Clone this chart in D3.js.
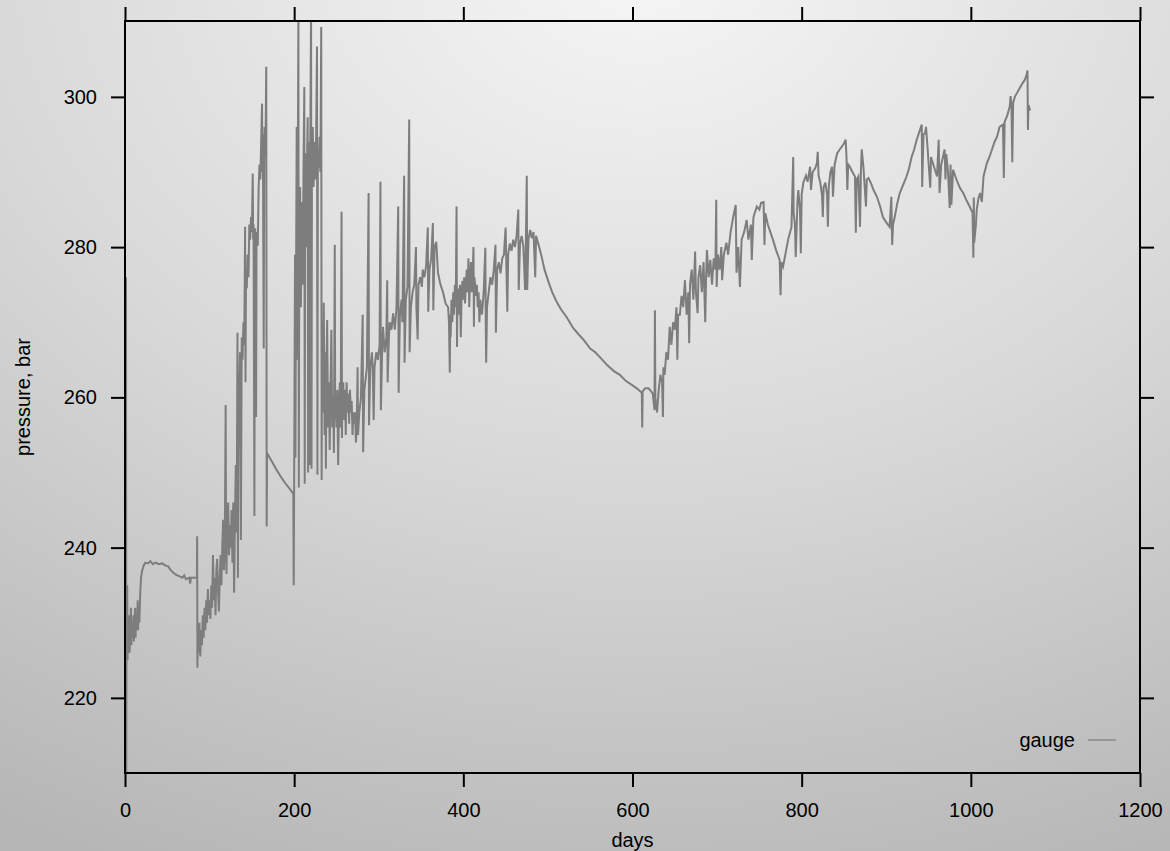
<!DOCTYPE html>
<html>
<head>
<meta charset="utf-8">
<script src="https://d3js.org/d3.v7.min.js"></script>
<style>
  html, body { margin: 0; padding: 0; background: #d0d0d0; }
  svg { display: block; }
  text { font-family: "Liberation Sans", Arial, Helvetica, sans-serif; fill: #000; }
</style>
</head>
<body>
<svg id="chart" width="1170" height="851"></svg>
<script>
// gauge readings, [day, pressure in bar]
var gaugeReadings = [
  [1.2,276],[1.5,210],[1.8,229],[2.2,226],[2.6,235],[3,225],[3.5,230],[4,227],[5,231],[5.5,226],[6,229],[7,232],[7.5,227],[8,230],[9,228],[10,231],[10.5,227.5],[11,230],[12,232],[12.5,228],[13,231],[14,229],[15,233],[15.5,229],[16,232],[17,230],[18,234],[19,236],[20,236.8],
  [22,237.6],[24,238],[27,237.9],[30,238.2],[33,237.8],[36,238],[40,237.8],[44,237.9],[48,237.6],[51,237.5],[54,237],[57,236.7],[60,236.4],[64,236.2],[68,236],[70,236.3],[72,235.8],[76,236],[77,235.2],[78,236],[84,236],
  [85,236],[85.3,241.5],[85.6,224],[86,228],[87,226],[88,230],[89,225.5],[90,229],[91,227],[92,231],[93,228],[94,232],[95,229],[96,233],[97,230],[98,234.5],[99,231],[100,233],[101,230.5],[102,235],[103,232],[104,239],[105,233],[106,236],[107,231],[108,237],[109,238.5],[110,234],[111,231.5],[112,236],[113,239],[114,235],[115,240],[116,243.7],[117,237],[118,241],[119,259],[119.5,240],[120,236.5],
  [121,244],[122,246],[123,239],[124,243],[125,240],[126,245],[127,238],[128,246],[129,234],[130,244],[131,251],[132,242],[133,268.6],[133.5,236],[134,253],[135,260],[136,266],[137,241],[138,268],[139,265],[140,270],[141,267],[142,282.7],[142.5,262],[143,276],[144,274.5],[145,279],[146,276],[147,283],[148,281],[149,284],[150,282],[151,289.8],[151.5,281],[152,283],[153,244.2],[153.5,281],[154,282.5],[155,257.4],[155.5,281],[156,282],[157,280.2],[158,288],[159,291],[160,289],[161,294],[162,299.1],[162.5,290],[163,295],[164,266.5],[164.5,291],[165,296],[166,292],[167,304],[167.5,242.8],[168,252.6],
  [172,251.8],[176,251],[180,250.2],[185,249.3],[190,248.5],[195,247.8],[199,247.2],
  [199.5,235],[200,249],[201,279],[201.5,252],[202,270],[203,296],[203.5,265],[204,282],[205,311],[205.5,248],[206,276],[207,288],[208,272],[209,286],[210,275],[211,290],[212,301.3],[212.5,248.5],[213,285],[214,292.5],[214.5,280],[215,290],[216,297.3],[216.5,250],[217,289],[218,294],[218.5,251],[219,293],[220,312],[220.5,250.5],[221,291],[222,296],[223,288],[224,294],[225,289],[226,295],[227,306.7],[227.5,249.7],[228,292],[229,290.5],[230,294.7],[231,290],[232,309.3],[232.5,249],
  [233,270],[234,258],[235,272.6],[236,255],[237,266],[237.5,250.5],[238,262],[239,270.3],[240,256],[241,262],[242,253],[243,261.4],[244,269],[245,256],[246,260],[247,252.6],[248,280.3],[248.5,257],
  [249,260],[250,256],[251,261],[252,251],[253,259],[254,262],[255,256],[256,284.7],[256.5,254.6],[257,260],[258,262],[259,257],[260,261],[261,255],[262,262],[263,258],[264,260.5],[265,256.5],[266,261],[267,258],[268,259.5],[269,255],[270,258],[271,256.5],[272,258],[273,254],[274,256],[275,264],[275.5,255],[277,258],[279,260],[281,271],[281.5,252.7],[283,261],[285,263],[286,264],[288,287.2],[288.5,256.3],[290,264],[292,266],[293,263.3],[294,257],[295,264],[297,266],[299,265],[301,267],[302,288.7],[302.5,258.3],
  [304,266],[305,269.4],[307,266],[309,268],[310,275.6],[310.5,262],[312,268],[313,270],[315,269],[317,271.2],[319,269],[321,272],[323,285.4],[323.5,260.6],[325,271],[327,273],[328,270],[330,289.5],[330.5,264.6],[332,273],[334,274.7],[336,297],[336.5,266],[338,272],[340,274],[342,275],[344,280],[344.5,272],[346,267.7],[347,275],[349,276],[351,274.7],[352,277],[354,276],[356,277.5],[358,282.6],[358.5,271.4],[360,277],[362,278.5],[364,283.2],[364.5,271.6],[366,280],[368,280.7],[370,276.6],[373,275],[376,274],[379,272.5],
  [382,272],[383,270],[384,263.3],[384.5,271],[385,268],[386,273],[387,270],[388,274],[389,271],[390,275],[391,272],[392,285.4],[392.5,266.7],[393,273],[394,274.5],[395,271],[396,275],[397,268],[398,274],[399,275.5],[400,273],[401,276],[402,272.5],[403,275],[404,277],[405,274],[406,278.5],[407,272],[408,276],[409,278],[410,274],[411,276.5],[412,280],[412.5,269.4],[413,276],[414,275],[415,273.5],[416,275],[417,272],[418,274],[419,270],
  [420,273],[422,271],[424,273.9],[426,279.9],[426.5,270],[427,264.6],[428,272],[430,274],[432,276],[434,275],[436,277],[438,280.3],[438.5,268.6],[440,277],[442,278],[444,276.5],[446,278.5],[448,279],[450,282.6],[451,277],[452,271.4],[453,279],[455,280.5],[457,279.5],[459,281],[461,280],[463,281.5],[465,285],[465.5,274.3],[467,280.5],[469,281.5],[471,280],[473,274.3],[474,281],[475,289.5],[475.5,274.3],[477,281],[479,282.3],[481,281.2],[483,282],[485,276],[486,281.5],
  [489,280.3],[492,279],[496,277],[500,275.6],[505,274],[510,272.8],[515,271.8],[522,270.7],[530,269.2],[537,268.3],[542,267.7],[550,266.5],[556,266],[562,265.3],[570,264.3],[578,263.5],[585,263],[592,262.2],[600,261.6],[605,261.2],[609,260.8],[611,260.6],[611.5,256],[612,260.8],[615,261.2],[619,261.2],[622,260.8],[624,260.5],[626,258.3],[626.5,271.6],[627,260],[629,258],[631,261],[633,263],[635,262],[636,257.4],[636.5,264],
  [638,263],[640,266],[642,265],[644,269.4],[646,267],[648,270],[650,269],[652,272],[653,265],[654,271],[656,271],[658,273.5],[660,272],[662,275.6],[664,271],[666,274],[667,267.2],[668,275],[670,277],[672,273],[674,279.4],[675,274],[677,271.2],[678,276],[680,277.6],[682,274],[684,278],[686,270],[687,276],[688,279.6],[690,276],[692,278.3],[694,275],[696,278.5],[698,277],[699,286.3],[699.5,274.7],
  [701,279],[703,277],[705,280],[706,275.6],[708,279],[711,280.6],[713,279],[716,282],[719,284],[722,285.6],[723,276.6],[725,280],[727,274.7],[729,281],[732,282],[735,283.6],[737,281],[740,283],[741,278.3],[743,284],[747,285.4],[750,285],[752,285.9],[755,286],[756,280.3],[757,284.5],[760,283],[763,282],[766,281],[770,279.5],[774,278.3],[775,273.6],[776,278],[778,277.4],
  [781,279.2],[784,281],[788,282.7],[790,292],[790.5,284.6],[792,283],[793,278.7],[795,286],[796,287.6],[798,285],[799,279.2],[800,287],[802,288.6],[805,289.5],[807,288.7],[810,290.7],[811,287.6],[813,290],[816,290.5],[818,291.2],[819,292.7],[820,289.5],[822,288.6],[824,287],[825,284],[826,288],[828,288.6],[830,287],[831,282.7],[832,288],[834,290],[836,290.7],[837,286.7],[839,291],[842,292.5],[845,293],[847,293.3],[850,293.8],[852,294.3],[853,292],[854,287.6],[855,291],[857,290.7],[860,290],[863,289.4],[864,281.9],[865,289],[867,289.4],[869,282.7],[870,290],[871,293],[873,290.7],[876,285.4],[877,289],[879,289.2],
  [882,288.5],[885,287.6],[889,286.7],[893,285.3],[896,284],[900,283.3],[904,282.7],[906,286.7],[907,280.3],[908,283],[910,284],[913,285.8],[916,287.2],[920,288.3],[924,289.4],[927,290.5],[930,292],[933,293],[936,294.3],[939,295.3],[942,296.3],[942.5,288],[944,295],[946,295.2],[947,296],[949,293],[952,287.9],[953,292],[954,291.6],[957,290.5],[960,289.4],[962,294.3],[963,287.2],[965,291],[967,292],[969,293],[970,289],[971,292.4],[973,290],[975,285.2],[976,291],[977,285.6],[979,290.3],
  [983,289],[987,287.9],[991,287.2],[995,286.2],[999,285.3],[1002,284.6],[1003,278.6],[1003.5,286.6],[1004,280.6],[1006,283],[1007,285],[1009,286.5],[1011,287.2],[1013,286],[1015,289.4],[1017,290.3],[1019,291.2],[1022,292],[1025,293],[1028,294],[1031,294.7],[1034,296],[1038,296.3],[1039,289.2],[1040,296.7],[1043,297.5],[1046,298.7],[1047,300.1],[1048,299],[1049,291.3],[1050,299.2],[1052,300],[1055,300.6],[1058,301.2],[1061,301.8],[1064,302.3],[1066,303],[1067,303.5],[1067.5,295.6],[1068,298.3],[1069,298.6],[1070,298.2]
];

var seriesName = "gauge";
var xTicks = [0, 200, 400, 600, 800, 1000, 1200];
var yTicks = [220, 240, 260, 280, 300];
var xDomain = [0, 1200];
var yDomain = [210, 310.1];

var W = 1170, H = 851;
var plot = {left: 125, right: 1140, top: 21, bottom: 773};

var svg = d3.select("#chart");

// background, light at the top middle, darker towards the bottom corners
var defs = svg.append("defs");
var grad = defs.append("radialGradient")
    .attr("id", "bg")
    .attr("gradientUnits", "userSpaceOnUse")
    .attr("cx", 0).attr("cy", 0).attr("r", 1)
    .attr("gradientTransform", "translate(640,-40) scale(1300,1000)");
grad.append("stop").attr("offset", 0).attr("stop-color", "#f6f6f6");
grad.append("stop").attr("offset", 0.5).attr("stop-color", "#d9d9d9");
grad.append("stop").attr("offset", 1).attr("stop-color", "#b5b5b5");

svg.append("rect").attr("width", W).attr("height", H).attr("fill", "url(#bg)");

defs.append("clipPath").attr("id", "plotclip")
    .append("rect")
    .attr("x", plot.left).attr("y", plot.top)
    .attr("width", plot.right - plot.left).attr("height", plot.bottom - plot.top);

var x = d3.scaleLinear().domain(xDomain).range([plot.left, plot.right]);
var y = d3.scaleLinear().domain(yDomain).range([plot.bottom, plot.top]);

// the series
var line = d3.line()
    .x(function (d) { return x(d[0]); })
    .y(function (d) { return y(d[1]); });

svg.append("path")
    .datum(gaugeReadings)
    .attr("clip-path", "url(#plotclip)")
    .attr("d", line)
    .attr("fill", "none")
    .attr("stroke", "#7d7d7d")
    .attr("stroke-width", 2)
    .attr("stroke-linejoin", "miter");

// axes on all four sides, labels only bottom and left
function styleAxis(g) {
    g.select(".domain").remove();
    g.selectAll(".tick line").attr("stroke", "#000").attr("stroke-width", 2);
    g.selectAll(".tick text").attr("font-size", 20).attr("font-family", null).attr("fill", "#000");
}

var plain = d3.format("d");

svg.append("g")
    .attr("transform", "translate(0," + plot.bottom + ")")
    .call(d3.axisBottom(x).tickValues(xTicks).tickFormat(plain).tickSize(14).tickPadding(16).tickSizeOuter(0))
    .call(styleAxis);

svg.append("g")
    .attr("transform", "translate(0," + plot.top + ")")
    .call(d3.axisTop(x).tickValues(xTicks).tickSize(14).tickFormat("").tickSizeOuter(0))
    .call(styleAxis);

svg.append("g")
    .attr("transform", "translate(" + plot.left + ",0)")
    .call(d3.axisLeft(y).tickValues(yTicks).tickFormat(plain).tickSize(14).tickPadding(14).tickSizeOuter(0))
    .call(styleAxis);

svg.append("g")
    .attr("transform", "translate(" + plot.right + ",0)")
    .call(d3.axisRight(y).tickValues(yTicks).tickSize(14).tickFormat("").tickSizeOuter(0))
    .call(styleAxis);

// frame
svg.append("rect")
    .attr("x", plot.left).attr("y", plot.top)
    .attr("width", plot.right - plot.left).attr("height", plot.bottom - plot.top)
    .attr("fill", "none").attr("stroke", "#000").attr("stroke-width", 2);

// axis titles
svg.append("text")
    .attr("x", (plot.left + plot.right) / 2).attr("y", 847)
    .attr("text-anchor", "middle").attr("font-size", 20)
    .text("days");

svg.append("text")
    .attr("transform", "translate(30," + (plot.top + plot.bottom) / 2 + ") rotate(-90)")
    .attr("text-anchor", "middle").attr("font-size", 20)
    .text("pressure, bar");

// legend
svg.append("text")
    .attr("x", 1075).attr("y", 747)
    .attr("text-anchor", "end").attr("font-size", 20)
    .text(seriesName);

svg.append("line")
    .attr("x1", 1088).attr("x2", 1116).attr("y1", 740).attr("y2", 740)
    .attr("stroke", "#8a8a8a").attr("stroke-width", 1.5);
</script>
</body>
</html>
